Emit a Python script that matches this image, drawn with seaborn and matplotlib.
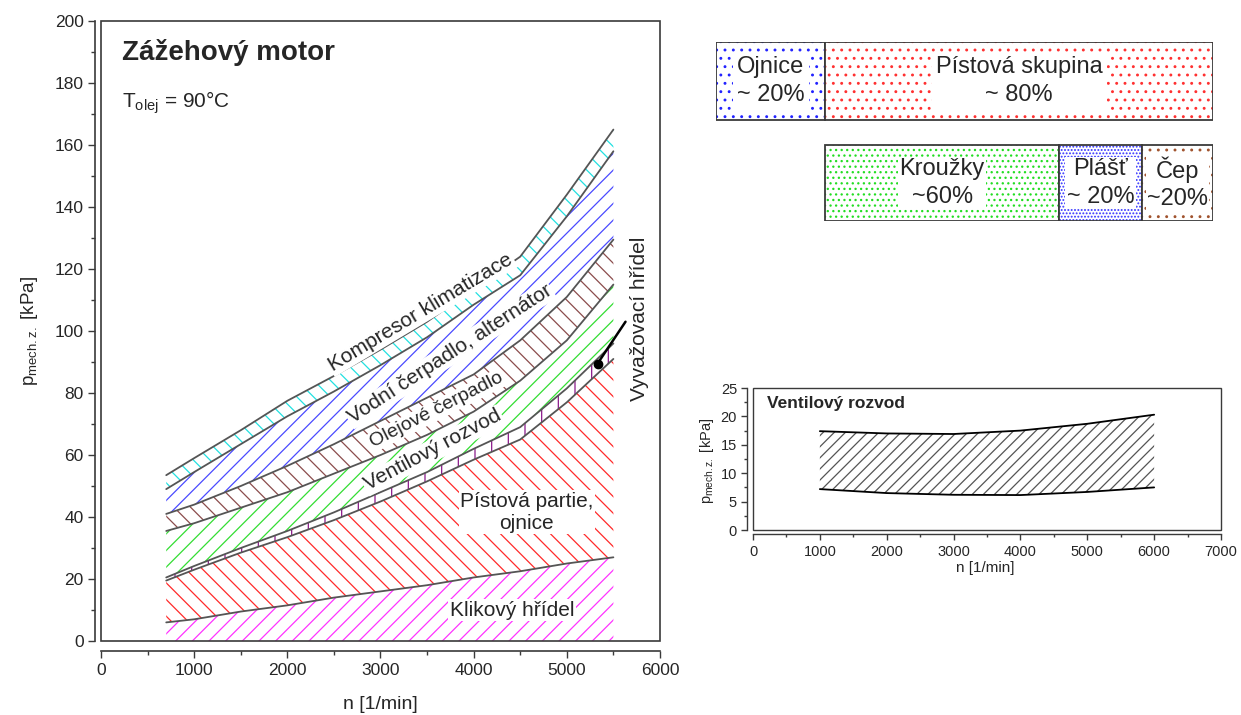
import matplotlib
matplotlib.use("Agg")
import matplotlib.pyplot as plt
import seaborn as sns
import pandas as pd
from matplotlib.patches import Rectangle
from matplotlib.ticker import MultipleLocator

# Hlavni graf - kumulativni hranice pasem (kPa) pro otacky n
rpm = [700, 1000, 1500, 2000, 2500, 3000, 3500, 4000, 4500, 5000, 5500]
klikovy = [6, 7, 9.5, 11.5, 14, 16, 18, 20.5, 22.5, 25, 27]
pistova = [19.5, 23, 28.5, 33.5, 39, 45, 51.5, 58.5, 65, 77, 91]
vyvazovaci = [20.5, 24.2, 30, 35.5, 41.5, 48, 54.5, 62, 69, 81.5, 96]
ventilovy = [35.5, 38, 43, 48, 54, 60, 66.5, 74, 84, 97, 115]
olejove = [41, 44, 50, 56.5, 63.5, 71, 78.5, 86, 97, 111, 129.5]
vodni = [49, 54.5, 63.5, 72.5, 80.5, 89, 98, 108.5, 118, 137, 158]
kompresor = [53.5, 59, 68, 77.5, 85.5, 94, 103, 113.5, 124, 144, 165]

# Vlozeny graf - ventilovy rozvod
inset_rpm = [1000, 2000, 3000, 4000, 5000, 6000]
ventil_min = [7.2, 6.5, 6.2, 6.15, 6.7, 7.5]
ventil_max = [17.4, 17.0, 16.9, 17.5, 18.7, 20.3]

# Podily ztrat (sirka bloku v procentech, jak je nakresleno)
horni_popisky = ["Ojnice\n~ 20%", "Pístová skupina\n~ 80%"]
horni_podily = [22, 78]
dolni_popisky = ["Kroužky\n~60%", "Plášť\n~ 20%", "Čep\n~20%"]
dolni_podily = [47, 16.7, 14.3]

sns.set_style("ticks")
plt.rcParams["font.family"] = ["Liberation Sans", "DejaVu Sans"]
plt.rcParams["mathtext.fontset"] = "custom"
plt.rcParams["mathtext.rm"] = "Liberation Sans"
plt.rcParams["mathtext.it"] = "Liberation Sans:italic"
plt.rcParams["hatch.linewidth"] = 0.9

EDGE = "#3a3a3a"

fig = plt.figure(figsize=(12.41, 7.15), dpi=100)


def styl_os(ax, off_left, off_bottom, lw=1.2):
    ax.spines["left"].set_position(("outward", off_left))
    ax.spines["bottom"].set_position(("outward", off_bottom))
    ax.spines["top"].set_visible(False)
    ax.spines["right"].set_visible(False)
    for s in ["left", "bottom"]:
        ax.spines[s].set_color(EDGE)
        ax.spines[s].set_linewidth(lw)
    ax.add_patch(Rectangle((0, 0), 1, 1, transform=ax.transAxes, fill=False,
                           edgecolor=EDGE, linewidth=lw, clip_on=False, zorder=5))
    ax.tick_params(which="major", length=5, width=1, color=EDGE)
    ax.tick_params(which="minor", length=3, width=1, color=EDGE)


# ---------------- hlavni graf ----------------
ax = fig.add_axes([0.0814, 0.1035, 0.4504, 0.867])
pasma = [
    ([0] * len(rpm), klikovy, "#ff33ff", "//"),
    (klikovy, pistova, "#ff2a2a", "\\\\"),
    (pistova, vyvazovaci, "#8a1a8a", "|"),
    (vyvazovaci, ventilovy, "#33dd33", "//"),
    (ventilovy, olejove, "#8b4c4c", "\\\\"),
    (olejove, vodni, "#4a4aff", "//"),
    (vodni, kompresor, "#22e0e0", "\\\\"),
]
for dole, nahore, barva, srafa in pasma:
    ax.fill_between(rpm, dole, nahore, facecolor="none", edgecolor=barva,
                    hatch=srafa, linewidth=0)

for hranice in [klikovy, pistova, vyvazovaci, ventilovy, olejove, vodni, kompresor]:
    sns.lineplot(x=rpm, y=hranice, ax=ax, color="#555555", linewidth=1.3)

ax.set_xlim(0, 6000)
ax.set_ylim(0, 200)
ax.xaxis.set_major_locator(MultipleLocator(1000))
ax.xaxis.set_minor_locator(MultipleLocator(500))
ax.yaxis.set_major_locator(MultipleLocator(20))
ax.yaxis.set_minor_locator(MultipleLocator(10))
ax.tick_params(labelsize=12.5)
styl_os(ax, 4, 7)
ax.set_xlabel("n [1/min]", fontsize=14)
ax.set_ylabel(r"p$_{\mathrm{mech.z.}}$ [kPa]", fontsize=13.5)
ax.xaxis.set_label_coords(0.499, -0.088)
ax.yaxis.set_label_coords(-0.11, 0.5)

bila = dict(facecolor="white", edgecolor="none", pad=1)
ax.text(225, 190, "Zážehový motor", fontsize=20, fontweight="bold", va="center")
ax.text(225, 173.5, r"T$_{\mathrm{olej}}$ = 90°C", fontsize=15, va="center")
ax.text(3434, 106, "Kompresor klimatizace", fontsize=15, rotation=31,
        ha="center", va="center", rotation_mode="anchor", bbox=bila)
ax.text(3745, 92.5, "Vodní čerpadlo, alternátor", fontsize=15, rotation=33,
        ha="center", va="center", rotation_mode="anchor", bbox=bila)
ax.text(3605, 74.5, "Olejové čerpadlo", fontsize=14, rotation=27,
        ha="center", va="center", rotation_mode="anchor", bbox=bila)
ax.text(3562, 61.5, "Ventilový rozvod", fontsize=15, rotation=28,
        ha="center", va="center", rotation_mode="anchor", bbox=bila)
ax.text(4571, 41.6, "Pístová partie,\nojnice", fontsize=15, ha="center",
        va="center", bbox=bila)
ax.text(4410, 10, "Klikový hřídel", fontsize=15, ha="center", va="center", bbox=bila)
ax.text(5784, 104, "Vyvažovací hřídel", fontsize=15, rotation=90,
        ha="center", va="center")
ax.plot([5330, 5630], [89.5, 103], color="black", linewidth=1.8)
ax.plot([5330], [89.5], marker="o", color="black", markersize=6)

# ---------------- podily ztrat ----------------
axb = fig.add_axes([716 / 1241, (715 - 221) / 715, 497 / 1241, 179 / 715])
axb.set_xlim(0, 100)
axb.set_ylim(179, 0)
axb.axis("off")

horni_barvy = [("#2222ff", ".."), ("#ff3030", "..")]
start = 0
for popis, sirka, (barva, srafa) in zip(horni_popisky, horni_podily, horni_barvy):
    axb.barh(39, sirka, height=78, left=start, facecolor="white", edgecolor=barva,
             hatch=srafa, linewidth=0)
    axb.barh(39, sirka, height=78, left=start, facecolor="none", edgecolor=EDGE,
             linewidth=1.3)
    axb.text(start + sirka / 2, 39, popis, ha="center", va="center", fontsize=17,
             linespacing=1.3, bbox=dict(facecolor="white", edgecolor="none", pad=3))
    start += sirka

dolni_barvy = [("#22dd22", "..."), ("#3030ff", "....."), ("#a0522d", "..")]
start = horni_podily[0]
for popis, sirka, (barva, srafa) in zip(dolni_popisky, dolni_podily, dolni_barvy):
    axb.barh(141, sirka, height=76, left=start, facecolor="white", edgecolor=barva,
             hatch=srafa, linewidth=0)
    axb.barh(141, sirka, height=76, left=start, facecolor="none", edgecolor=EDGE,
             linewidth=1.3)
    axb.text(start + sirka / 2, 141, popis, ha="center", va="center", fontsize=17,
             linespacing=1.3, bbox=dict(facecolor="white", edgecolor="none", pad=1))
    start += sirka

# ---------------- vlozeny graf ----------------
axi = fig.add_axes([753 / 1241, (715 - 530) / 715, 468 / 1241, 142 / 715])
axi.fill_between(inset_rpm, ventil_min, ventil_max, facecolor="none",
                 edgecolor="#555555", hatch="///", linewidth=0)
sns.lineplot(x=inset_rpm, y=ventil_min, ax=axi, color="black", linewidth=1.3)
sns.lineplot(x=inset_rpm, y=ventil_max, ax=axi, color="black", linewidth=1.3)
axi.set_xlim(0, 7000)
axi.set_ylim(0, 25)
axi.xaxis.set_major_locator(MultipleLocator(1000))
axi.xaxis.set_minor_locator(MultipleLocator(500))
axi.yaxis.set_major_locator(MultipleLocator(5))
axi.yaxis.set_minor_locator(MultipleLocator(2.5))
axi.tick_params(labelsize=10.5)
styl_os(axi, 4, 3, lw=1.0)
axi.tick_params(which="major", length=4)
axi.tick_params(which="minor", length=2.5)
axi.set_xlabel("n [1/min]", fontsize=11)
axi.set_ylabel(r"p$_{\mathrm{mech.z.}}$ [kPa]", fontsize=10.5)
axi.xaxis.set_label_coords(0.496, -0.22)
axi.yaxis.set_label_coords(-0.08, 0.49)
axi.text(209, 22.2, "Ventilový rozvod", fontsize=12.5, fontweight="bold", va="center")

fig.savefig("out.png", dpi=100)
